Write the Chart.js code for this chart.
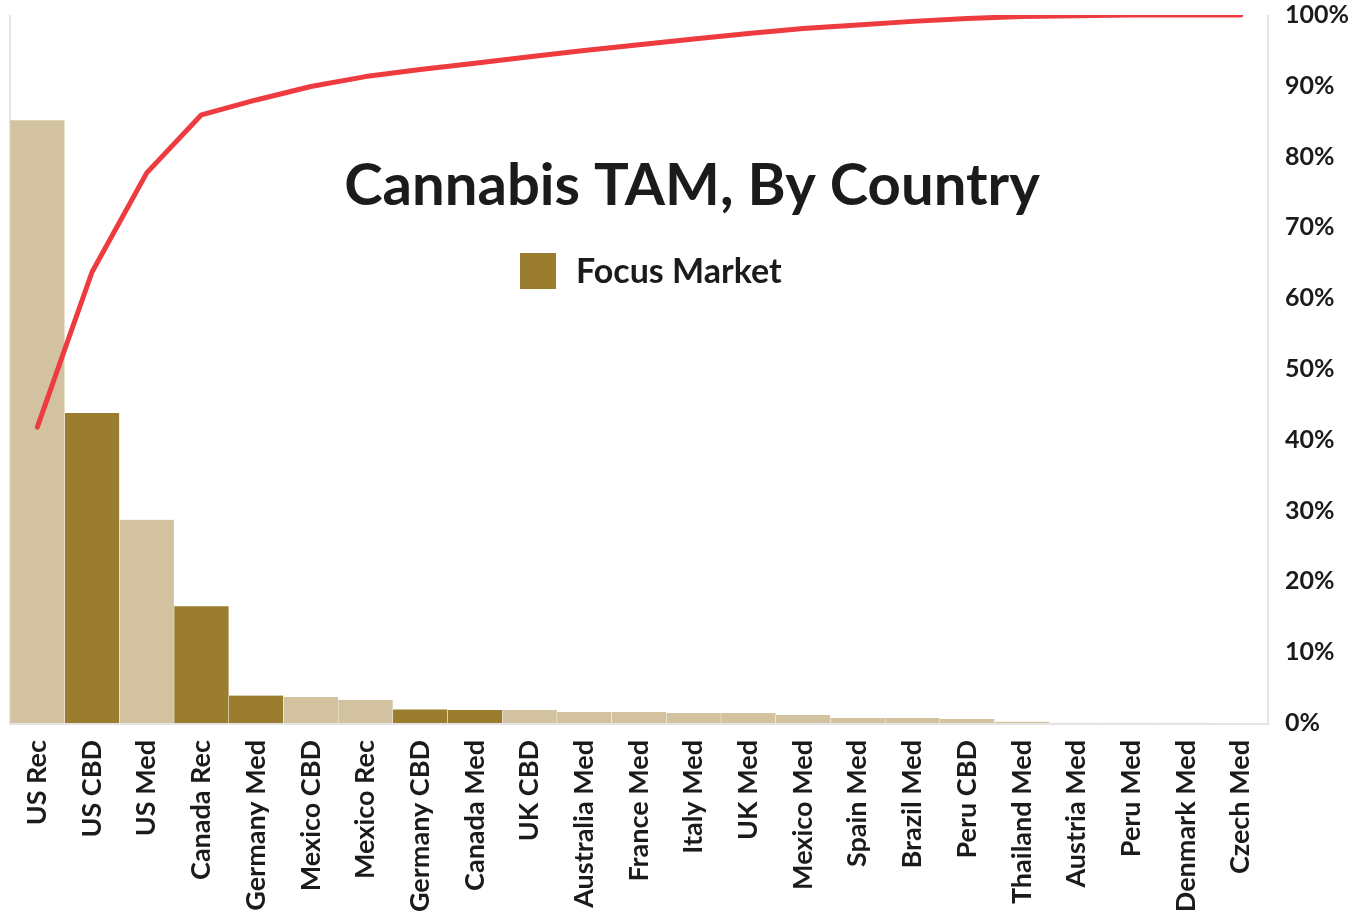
<!DOCTYPE html>
<html>
<head>
<meta charset="utf-8">
<title>Cannabis TAM, By Country</title>
<script src="https://cdn.jsdelivr.net/npm/chart.js@4/dist/chart.umd.min.js"></script>
<style>
  html, body { margin: 0; padding: 0; background: #fff; }
  #wrap { width: 1354px; height: 917px; }
</style>
</head>
<body>
<div id="wrap"><canvas id="tamChart" width="1354" height="917"></canvas></div>
<script>
const markets = [
  "US Rec", "US CBD", "US Med", "Canada Rec", "Germany Med", "Mexico CBD",
  "Mexico Rec", "Germany CBD", "Canada Med", "UK CBD", "Australia Med",
  "France Med", "Italy Med", "UK Med", "Mexico Med", "Spain Med", "Brazil Med",
  "Peru CBD", "Thailand Med", "Austria Med", "Peru Med", "Denmark Med", "Czech Med"
];

// share of total addressable market, %
const tamShare = [
  41.8, 21.5, 14.1, 8.1, 1.9, 1.8, 1.6, 0.94, 0.9, 0.9, 0.76,
  0.76, 0.7, 0.7, 0.56, 0.35, 0.35, 0.28, 0.09, 0.02, 0.01, 0.01, 0.005
];

// running total, %
const cumulativeShare = [
  41.8, 63.7, 77.7, 85.9, 88.0, 89.9, 91.3, 92.3, 93.2, 94.1, 95.0,
  95.8, 96.6, 97.4, 98.1, 98.6, 99.1, 99.5, 99.8, 99.9, 100, 100, 100
];

const focusMarkets = ["US CBD", "Canada Rec", "Germany Med", "Germany CBD", "Canada Med"];

const percentTicks = [0, 10, 20, 30, 40, 50, 60, 70, 80, 90, 100];

const TAN = "#D3C2A0";
const GOLD = "#9A7D2E";
const RED = "#EE3B3F";
const INK = "#1b1b1b";
const FONT = "Lato, 'Open Sans', sans-serif";

const barColors = markets.map(m => focusMarkets.includes(m) ? GOLD : TAN);

// frame on left, bottom and right of the plot + title and legend inside it
const framePlugin = {
  id: "frame",
  beforeDatasetsDraw(chart) {
    const { ctx, chartArea: a } = chart;
    ctx.save();
    ctx.strokeStyle = "#e4e4e4";
    ctx.lineWidth = 2;
    ctx.beginPath();
    ctx.moveTo(a.left, a.top);
    ctx.lineTo(a.left, a.bottom + 1);
    ctx.lineTo(a.right, a.bottom + 1);
    ctx.lineTo(a.right, a.top);
    ctx.stroke();
    ctx.restore();
  },
  afterDraw(chart) {
    const { ctx } = chart;
    ctx.save();
    ctx.fillStyle = INK;
    ctx.textAlign = "center";
    ctx.textBaseline = "alphabetic";
    ctx.font = "bold 58px " + FONT;
    ctx.fillText("Cannabis TAM, By Country", 692, 205);

    ctx.fillStyle = GOLD;
    ctx.fillRect(520, 253, 36, 36);
    ctx.fillStyle = INK;
    ctx.textAlign = "left";
    ctx.textBaseline = "middle";
    ctx.font = "bold 34px " + FONT;
    ctx.fillText("Focus Market", 576, 272);
    ctx.restore();
  }
};

new Chart(document.getElementById("tamChart"), {
  data: {
    labels: markets,
    datasets: [
      {
        type: "line",
        label: "Cumulative",
        data: cumulativeShare,
        yAxisID: "y",
        borderColor: RED,
        borderWidth: 5,
        borderCapStyle: "round",
        borderJoinStyle: "round",
        pointRadius: 0,
        tension: 0,
        order: 0
      },
      {
        type: "bar",
        label: "TAM share",
        data: tamShare,
        yAxisID: "yBar",
        backgroundColor: barColors,
        borderColor: "rgba(255,255,255,0.8)",
        borderWidth: { left: 0.5, right: 0.5, top: 0, bottom: 0 },
        borderSkipped: false,
        categoryPercentage: 1,
        barPercentage: 1,
        order: 1
      }
    ]
  },
  plugins: [framePlugin],
  options: {
    responsive: false,
    devicePixelRatio: 1,
    animation: false,
    layout: { padding: { left: 10, top: 0, right: 0, bottom: 0 } },
    plugins: { legend: { display: false }, tooltip: { enabled: false } },
    scales: {
      x: {
        grid: { display: false },
        border: { display: false },
        ticks: {
          color: INK,
          font: { family: FONT, size: 27, weight: "bold" },
          maxRotation: 90,
          minRotation: 90,
          autoSkip: false,
          padding: 9
        },
        afterFit(scale) { scale.height = 194; }
      },
      yBar: {
        display: false,
        min: 0,
        max: 49.1
      },
      y: {
        position: "right",
        min: 0,
        max: 100,
        grid: { display: false, drawTicks: false },
        border: { display: false },
        afterBuildTicks(scale) { scale.ticks = percentTicks.map(v => ({ value: v })); },
        ticks: {
          color: INK,
          font: { family: FONT, size: 25, weight: "bold" },
          padding: 17,
          callback: v => v + "%"
        },
        afterFit(scale) {
          scale.width = 86;
          scale.paddingTop = 15;
        }
      }
    }
  }
});
</script>
</body>
</html>
